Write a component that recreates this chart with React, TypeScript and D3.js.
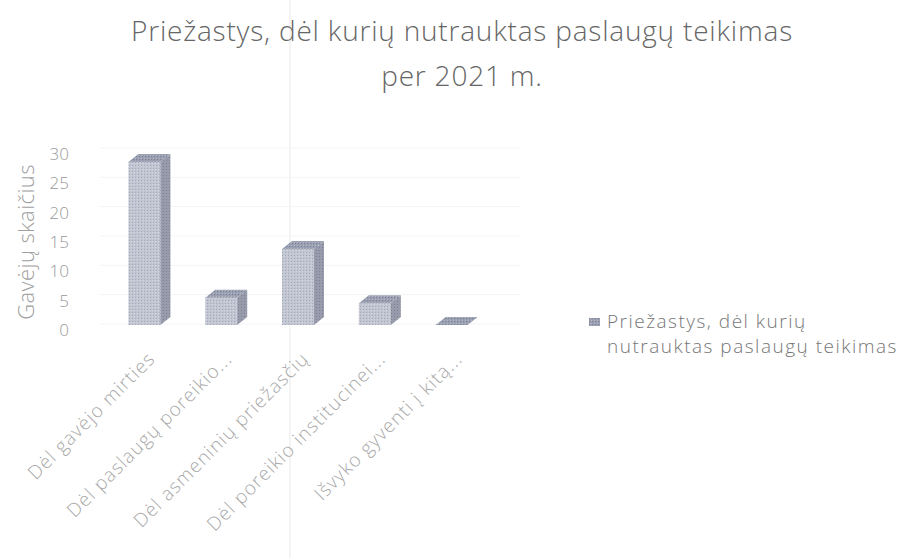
import React from "react";
import * as d3 from "d3";

const categories = [
  "Dėl gavėjo mirties",
  "Dėl paslaugų poreikio...",
  "Dėl asmeninių priežasčių",
  "Dėl poreikio institucinei...",
  "Išvyko gyventi į kitą...",
];
const values = [30, 5, 14, 4, 0];
const yTicks = [0, 5, 10, 15, 20, 25, 30];
const titleLines = ["Priežastys, dėl kurių nutrauktas paslaugų teikimas", "per 2021 m."];
const yAxisTitle = "Gavėjų skaičius";
const legendLines = ["Priežastys, dėl kurių", "nutrauktas paslaugų teikimas"];

const W = 900;
const H = 558;
const FONT = "'Open Sans', 'Noto Sans', sans-serif";

export default function App() {
  const x = d3.scaleBand<string>().domain(categories).range([111, 495]).padding(0);
  const y = d3.scaleLinear().domain([0, 30]).range([325, 162]);
  const yAxis = d3.scaleLinear().domain([0, 30]).range([330, 154]);
  const fw = 32;
  const dx = 10;
  const dy = 8;

  return (
    <svg
      width={W}
      height={H}
      style={{ position: "absolute", left: 0, top: 0, background: "#fff" }}
      fontFamily={FONT}
    >
      <defs>
        <pattern id="frontTex" width="3" height="3" patternUnits="userSpaceOnUse">
          <rect width="3" height="3" fill="#c2c5d2" />
          <rect x="0" y="0" width="1" height="1" fill="#a3a7b6" />
          <rect x="2" y="1" width="1" height="1" fill="#d4d6df" />
        </pattern>
        <pattern id="sideTex" width="3" height="3" patternUnits="userSpaceOnUse">
          <rect width="3" height="3" fill="#979bab" />
          <rect x="1" y="1" width="1" height="1" fill="#7c8192" />
        </pattern>
        <pattern id="topTex" width="3" height="3" patternUnits="userSpaceOnUse">
          <rect width="3" height="3" fill="#9aa0b2" />
          <rect x="1" y="0" width="1" height="1" fill="#7a8196" />
          <rect x="0" y="2" width="1" height="1" fill="#b5b9c6" />
        </pattern>
      </defs>
      <rect width={W} height={H} fill="#fff" />
      <line x1={290} x2={290} y1={0} y2={H} stroke="#f0f0f0" strokeWidth={1.5} />
      {yTicks.map((t) => (
        <line key={"g" + t} x1={100} x2={520} y1={yAxis(t) - 6} y2={yAxis(t) - 6} stroke="#f4f4f4" />
      ))}
      <text x={462} y={41} textAnchor="middle" fontSize={28} fontWeight={300} letterSpacing={0.8} fill="#666">
        {titleLines[0]}
      </text>
      <text x={462} y={86} textAnchor="middle" fontSize={28} fontWeight={300} letterSpacing={0.8} fill="#666">
        {titleLines[1]}
      </text>
      <text
        transform={`translate(34, ${yAxis(15)}) rotate(-90)`}
        textAnchor="middle"
        fontSize={22}
        fontWeight={300}
        letterSpacing={0.4}
        fill="#a0a0a0"
      >
        {yAxisTitle}
      </text>
      {yTicks.map((t) => (
        <text key={"t" + t} x={69} y={yAxis(t)} dy="0.35em" textAnchor="end" fontSize={17} fontWeight={300} fill="#999">
          {t}
        </text>
      ))}
      {values.map((v, i) => {
        const cx = (x(categories[i]) as number) + x.bandwidth() / 2;
        const l = cx - 21;
        const r = l + fw;
        const top = y(v);
        const base = y(0);
        return (
          <g key={"b" + i}>
            {v > 0 && <rect x={l} y={top} width={fw} height={base - top} fill="url(#frontTex)" />}
            {v > 0 && (
              <polygon
                points={`${r},${top} ${r + dx},${top - dy} ${r + dx},${base - dy} ${r},${base}`}
                fill="url(#sideTex)"
              />
            )}
            <polygon
              points={`${l},${top} ${l + dx},${top - dy} ${r + dx},${top - dy} ${r},${top}`}
              fill="url(#topTex)"
            />
          </g>
        );
      })}
      {categories.map((c) => {
        const cx = (x(c) as number) + x.bandwidth() / 2;
        return (
          <text
            key={"c" + c}
            transform={`translate(${cx + 7}, 360) rotate(-45)`}
            textAnchor="end"
            fontSize={19}
            fontWeight={300}
            letterSpacing={1.1}
            fill="#a8a8a8"
          >
            {c}
          </text>
        );
      })}
      <rect x={589} y={318} width={11} height={8} fill="url(#topTex)" />
      <text x={607} y={328} fontSize={19} fontWeight={300} fill="#777" letterSpacing={1.5}>
        {legendLines[0]}
      </text>
      <text x={607} y={353} fontSize={19} fontWeight={300} fill="#777" letterSpacing={1.5}>
        {legendLines[1]}
      </text>
    </svg>
  );
}
